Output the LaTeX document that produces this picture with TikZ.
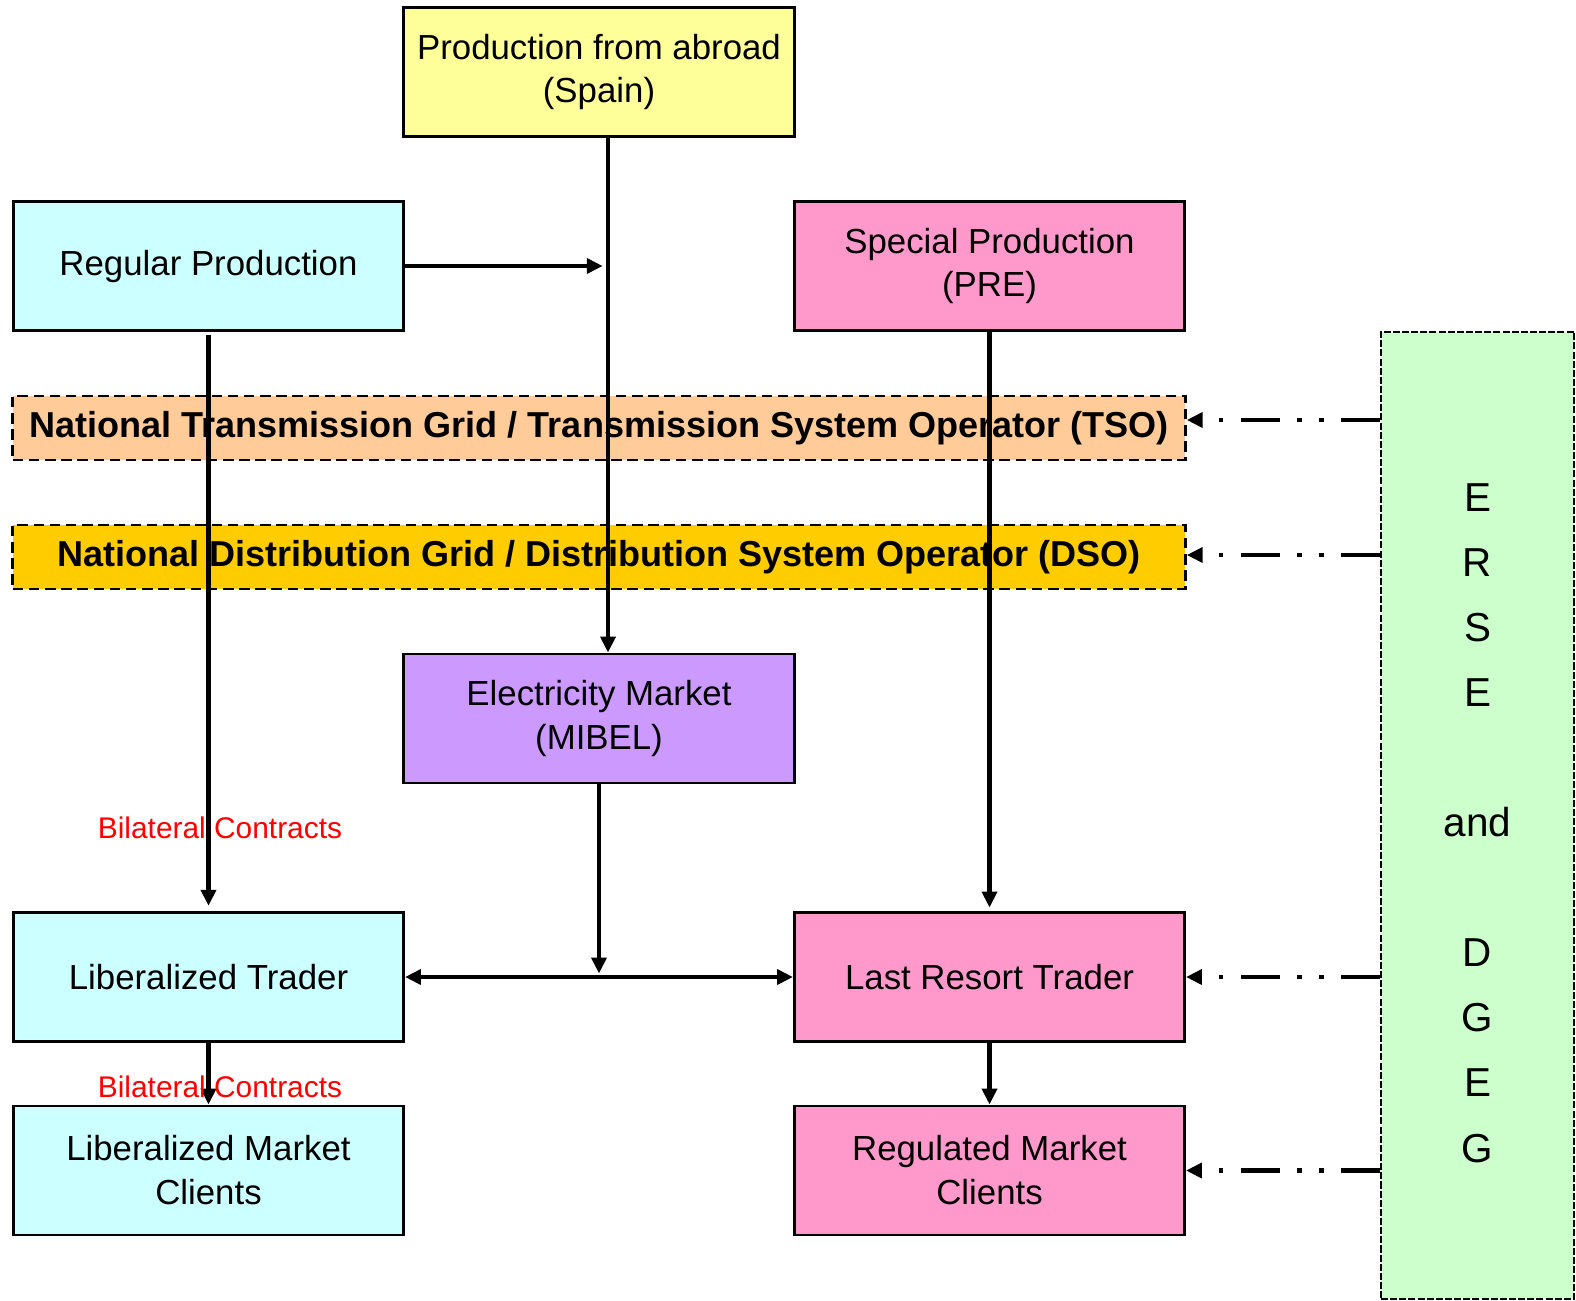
\documentclass[tikz,border=0pt]{standalone}
\usepackage{fontspec}
\setmainfont{Liberation Sans}
\usetikzlibrary{arrows.meta}

\definecolor{abroadyellow}{HTML}{FFFF99}
\definecolor{regularcyan}{HTML}{CCFFFF}
\definecolor{specialpink}{HTML}{FF99CC}
\definecolor{tsopeach}{HTML}{FFCC99}
\definecolor{dsogold}{HTML}{FFCC00}
\definecolor{marketviolet}{HTML}{CC99FF}
\definecolor{ersegreen}{HTML}{CCFFCC}

\begin{document}
\begin{tikzpicture}[x=0.01cm,y=-0.01cm,
    box/.style={draw,line width=0.8pt,minimum width=3.9cm,minimum height=1.29cm,
        inner sep=0pt,align=center,font=\fontsize{9.9}{12.5}\selectfont},
    gridbox/.style={draw,line width=0.8pt,dash pattern=on 3pt off 1.6pt,
        minimum width=11.72cm,minimum height=0.64cm,inner sep=0pt,
        font=\bfseries\fontsize{10.25}{12}\selectfont},
    flow/.style={line width=1.35pt,-{Triangle[length=4.5pt,width=4.2pt]}},
    ctrl/.style={line width=1.3pt,dash pattern=on 11pt off 5pt on 1.3pt off 5pt on 1.3pt off 5pt,
        -{Triangle[length=4.5pt,width=4.2pt]}},
    contract/.style={text=red,font=\fontsize{8.5}{10}\selectfont,inner sep=0pt}]

    \useasboundingbox (0,0) rectangle (1576,1300);

    % regulator
    \node[draw,fill=ersegreen,line width=0.5pt,dash pattern=on 2pt off 0.6pt,
        minimum width=1.93cm,minimum height=9.67cm,inner sep=0pt] (erse) at (1477.5,815.5) {};
    \node[align=center,inner sep=0pt,font=\fontsize{11.5}{18.5}\selectfont] (ersetext) at (1477.5,823)
        {E\\R\\S\\E\\[18.5pt]and\\[18.5pt]D\\G\\E\\G};

    % production
    \node[box,fill=abroadyellow] (abroad) at (599,72) {Production from abroad\\(Spain)};
    \node[box,fill=regularcyan] (regular) at (208.5,266) {Regular Production};
    \node[box,fill=specialpink] (special) at (989.5,266) {Special Production\\(PRE)};

    % grids
    \node[gridbox,fill=tsopeach] (tso) at (599,428)
        {National Transmission Grid / Transmission System Operator (TSO)};
    \node[gridbox,fill=dsogold] (dso) at (599,557)
        {National Distribution Grid / Distribution System Operator (DSO)};

    % market and traders
    \node[box,fill=marketviolet] (market) at (599,718.5) {Electricity Market\\(MIBEL)};
    \node[box,fill=regularcyan] (libtrader) at (208.5,977) {Liberalized Trader};
    \node[box,fill=specialpink] (lastresort) at (989.5,977) {Last Resort Trader};
    \node[box,fill=regularcyan] (libclients) at (208.5,1170.5) {Liberalized Market\\Clients};
    \node[box,fill=specialpink] (regclients) at (989.5,1170.5) {Regulated Market\\Clients};

    \coordinate (join) at (608,266);
    \coordinate (hub) at (599,977);

    \draw[flow] (abroad.south -| join) -- (market.north -| join);
    \draw[flow,shorten >=1.5pt] (regular.east) -- (join);
    \draw[flow,shorten <=1pt,shorten >=1.5pt] (regular.south) -- (libtrader.north);
    \draw[flow,shorten >=1pt] (special.south) -- (lastresort.north);
    \draw[flow,shorten >=1pt] (market.south) -- (hub);
    \draw[line width=1.35pt,{Triangle[length=4.5pt,width=4.2pt]}-{Triangle[length=4.5pt,width=4.2pt]}]
        (libtrader.east) -- (lastresort.west);
    \draw[flow] (libtrader.south) -- (libclients.north);
    \draw[flow] (lastresort.south) -- (regclients.north);

    \node[contract] (bc1) at (220,828) {Bilateral Contracts};
    \node[contract] (bc2) at (220,1087) {Bilateral Contracts};

    \foreach \n/\s in {tso/8, dso/2, lastresort/0, regclients/0}
    \draw[ctrl] ([yshift=\s*0.01cm]erse.west |- \n.east) -- ([yshift=\s*0.01cm]\n.east);
\end{tikzpicture}
\end{document}
